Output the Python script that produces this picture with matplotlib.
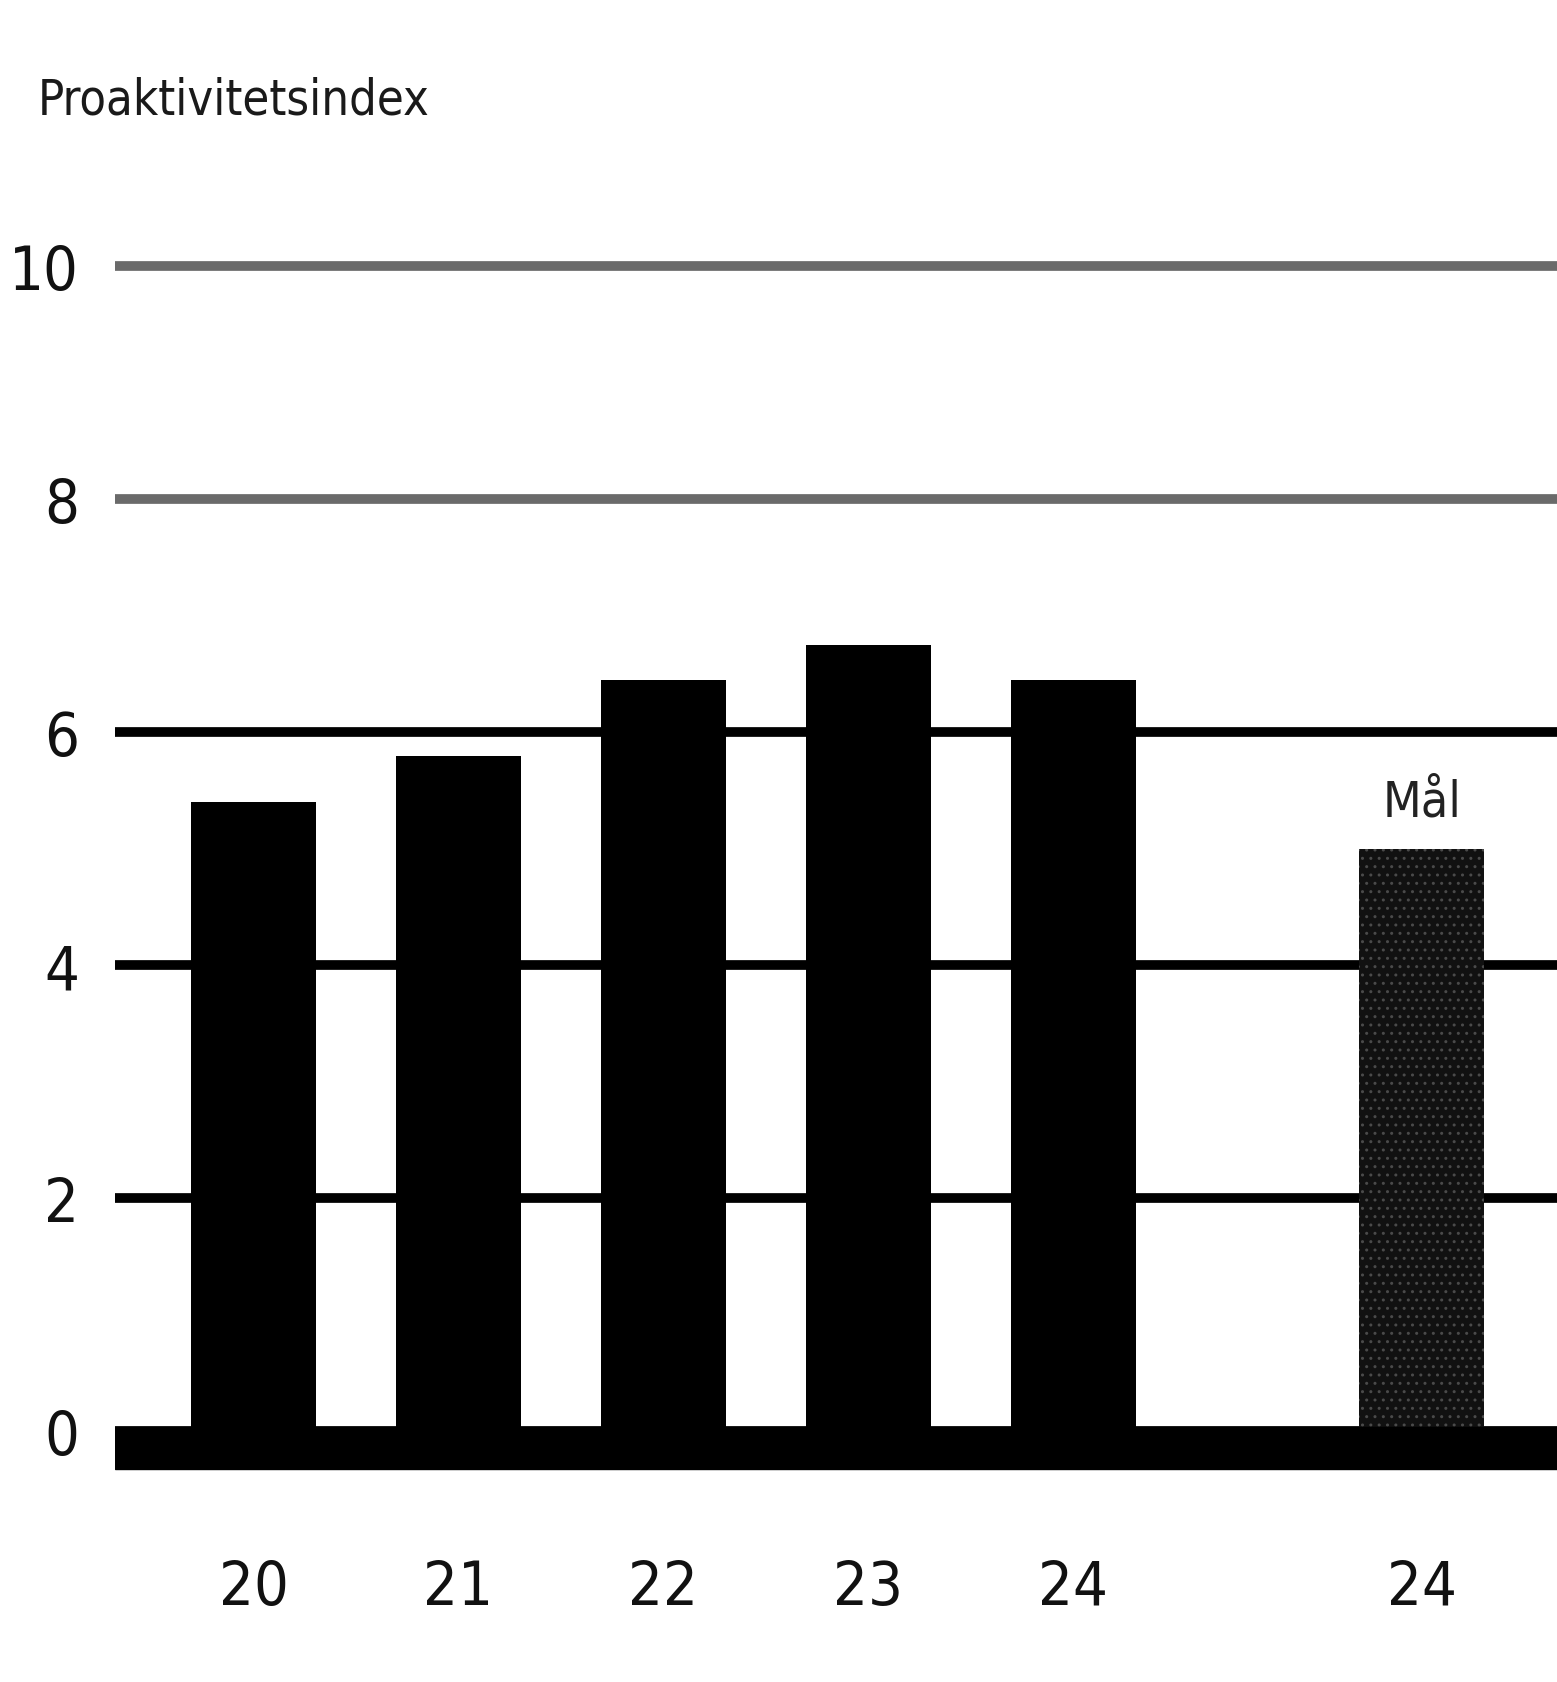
import matplotlib
matplotlib.use("Agg")
import matplotlib.pyplot as plt
from matplotlib import font_manager

# Data
years = ["20", "21", "22", "23", "24"]
values = [5.4, 5.8, 6.45, 6.75, 6.45]
goal_label = "24"
goal_value = 5.0
y_ticks = [0, 2, 4, 6, 8, 10]

# look for a condensed / narrow face, the original text is very narrow
narrow = None
for f in font_manager.fontManager.ttflist:
    fn = f.fname.lower()
    if ("condensed" in fn or "narrow" in fn) and "bold" not in fn and "oblique" not in fn \
            and "italic" not in fn and "mono" not in fn and "serif" not in fn.replace("sans", ""):
        narrow = f
        break

if narrow is not None:
    plt.rcParams['font.family'] = [narrow.name, 'DejaVu Sans']
    plt.rcParams['font.stretch'] = narrow.stretch
    tick_fs, title_fs, goal_fs = 44, 35, 36
else:
    plt.rcParams['font.family'] = ['DejaVu Sans']
    tick_fs, title_fs, goal_fs = 40, 32, 33

fig = plt.figure(figsize=(15.57, 16.83), dpi=100)
ax = fig.add_axes([0.074, 0.125, 0.926, 0.723])

pos = list(range(len(years)))
goal_pos = len(years) + 0.7

ax.bar(pos, values, width=0.61, color='black', zorder=3)
ax.bar([goal_pos], [goal_value], width=0.61, color='#111111',
       hatch='..', edgecolor='#4a4a4a', linewidth=0, zorder=3)
ax.text(goal_pos, goal_value + 0.2, "Mål", ha='center', va='bottom',
        fontsize=goal_fs, color='#222222')

# thick base line at zero
ax.axhspan(-0.33, 0.03, color='black', zorder=4)

ax.set_xlim(-0.675, 6.36)
ax.set_ylim(-0.35, 10.1)
ax.set_yticks(y_ticks)
ax.set_yticklabels([str(t) for t in y_ticks], fontsize=tick_fs)
ax.set_xticks(pos + [goal_pos])
ax.set_xticklabels(years + [goal_label], fontsize=tick_fs)
ax.tick_params(axis='both', length=0, colors='#111111')
ax.tick_params(axis='y', pad=26)
ax.tick_params(axis='x', pad=62)

ax.yaxis.grid(True, color='black', linewidth=7, zorder=0)
ax.set_axisbelow(True)
for t, line in zip(y_ticks, ax.get_ygridlines()):
    if t >= 8:
        line.set_color('#6a6a6a')
for s in ax.spines.values():
    s.set_visible(False)

fig.text(0.024, 0.94, "Proaktivitetsindex", fontsize=title_fs, va='center', ha='left',
         color='#1a1a1a')

fig.savefig("out.png", dpi=100)
